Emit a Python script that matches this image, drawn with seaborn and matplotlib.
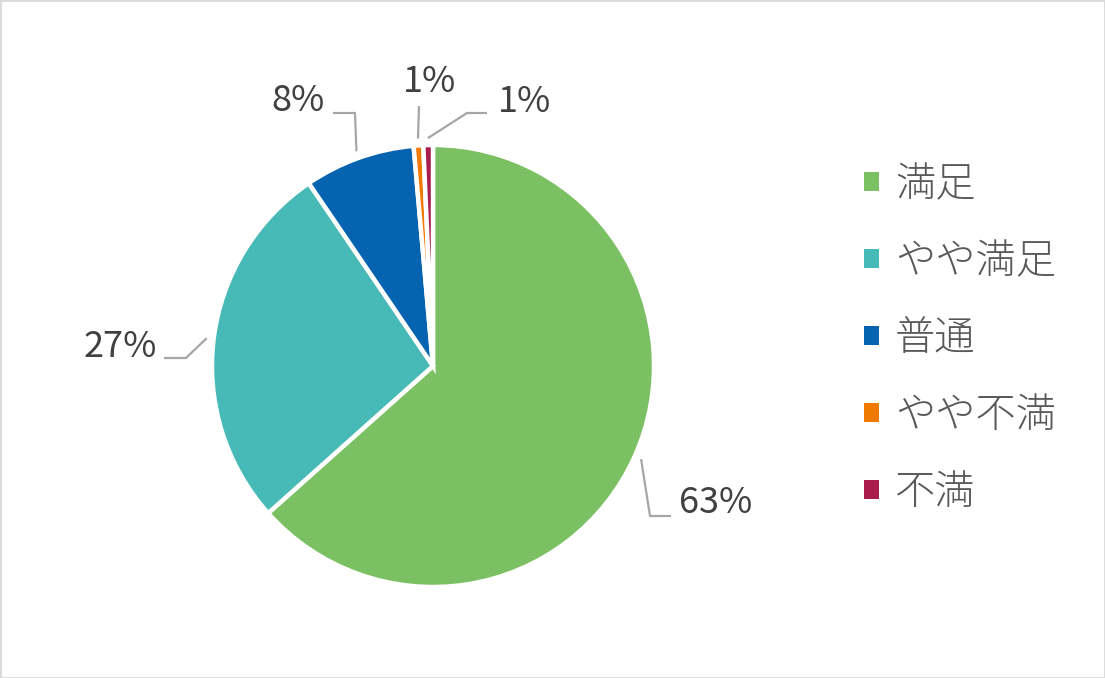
import seaborn as sns
import matplotlib.pyplot as plt
from matplotlib.patches import Rectangle
import numpy as np

# data
categories = ['満足', 'やや満足', '普通', 'やや不満', '不満']
values = [63.4, 27.1, 8.1, 0.7, 0.7]
colors = ['#7BC062', '#47B9B6', '#0563AF', '#F07A00', '#A81D4B']

sns.set_style('white')
plt.rcParams['font.family'] = ['Noto Sans CJK JP', 'DejaVu Sans']

W, H = 1105, 678
fig = plt.figure(figsize=(W / 100, H / 100), dpi=100)
ax = fig.add_axes([0, 0, 1, 1])

cx, cy, r = 433, H - 366, 221
wedges, _ = ax.pie(values, colors=colors, startangle=90, counterclock=False,
                   center=(cx, cy), radius=r,
                   wedgeprops=dict(edgecolor='white', linewidth=3.2))
ax.set_xlim(0, W)
ax.set_ylim(0, H)
ax.set_aspect('equal')
ax.axis('off')

# label layout (pixel coords from top): text pos, ha, elbow, line end
layout = [
    ((679, 503), 'left', (650, 516), (671, 516)),
    ((157, 347), 'right', (186, 358), (164, 358)),
    ((325, 101), 'right', (355, 113), (333, 113)),
    ((430, 82), 'center', (419, 106), (419, 106)),
    ((498, 102), 'left', (467, 113), (487, 113)),
]
for w, v, (tpos, ha, elbow, end) in zip(wedges, values, layout):
    mid = np.deg2rad((w.theta1 + w.theta2) / 2)
    ax0 = cx + (r + 7) * np.cos(mid)
    ay0 = cy + (r + 7) * np.sin(mid)
    ax.plot([ax0, elbow[0], end[0]], [ay0, H - elbow[1], H - end[1]],
            color='#A6A6A6', lw=1.6, solid_capstyle='butt')
    ax.text(tpos[0], H - tpos[1], f'{v:.0f}%', ha=ha, va='center',
            fontsize=26, color='#404040')

leg = ax.legend(wedges, categories, loc='center left',
                bbox_to_anchor=(864 / W, 1 - 339 / H), frameon=False,
                prop=dict(size=29, weight='light'), labelcolor='#595959',
                handlelength=0.37, handleheight=0.37, handletextpad=0.4,
                labelspacing=0.87, borderpad=0, borderaxespad=0)
for h in leg.legend_handles:
    h.set_edgecolor('none')

fig.patches.append(Rectangle((0, 0), 1, 1, transform=fig.transFigure,
                             fill=False, edgecolor='#D9D9D9', linewidth=2))
fig.savefig('out.png', dpi=100)
